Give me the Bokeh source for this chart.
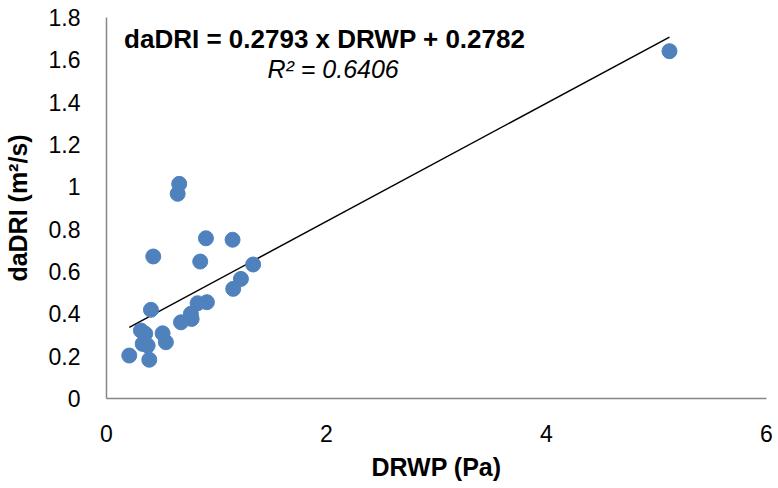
from bokeh.plotting import figure
from bokeh.models import ColumnDataSource, Label, Range1d, FixedTicker, CustomJSTickFormatter
from bokeh.embed import file_html
from bokeh.resources import INLINE

# data
drwp = [0.661, 0.647, 0.904, 1.146, 0.425, 0.852, 1.333, 1.222, 1.152, 0.913,
        0.828, 0.404, 0.767, 0.774, 0.677, 0.510, 0.540, 0.313, 0.352, 0.329,
        0.374, 0.207, 0.389, 5.118]
dadri = [1.014, 0.967, 0.757, 0.750, 0.671, 0.647, 0.633, 0.565, 0.518, 0.455,
         0.450, 0.419, 0.400, 0.376, 0.360, 0.308, 0.266, 0.321, 0.306, 0.258,
         0.250, 0.203, 0.183, 1.641]
slope = 0.2793
intercept = 0.2782
r2 = 0.6406
x_ticks = [0, 2, 4, 6]
y_ticks = [0, 0.2, 0.4, 0.6, 0.8, 1.0, 1.2, 1.4, 1.6, 1.8]

FONT = "Liberation Sans"

p = figure(width=778, height=488, output_backend="svg", toolbar_location=None,
           x_range=Range1d(0, 6), y_range=Range1d(0, 1.8),
           min_border_left=105, min_border_right=12, min_border_top=17,
           min_border_bottom=90)
p.outline_line_color = None
p.xgrid.grid_line_color = None
p.ygrid.grid_line_color = None
p.background_fill_color = "white"
p.border_fill_color = "white"

src = ColumnDataSource(dict(x=drwp, y=dadri))

# trendline over the data range
x0, x1 = min(drwp), max(drwp)
p.line([x0, x1], [slope * x0 + intercept, slope * x1 + intercept],
       line_color="black", line_width=1.5)

p.scatter("x", "y", source=src, size=15, fill_color="#4F81BD",
          line_color="#4F81BD")

fmt = CustomJSTickFormatter(code="return tick.toFixed(1).replace(/\\.0$/, '');")

for ax in (p.xaxis[0], p.yaxis[0]):
    ax.axis_line_color = "#868686"
    ax.axis_line_width = 1.5
    ax.major_tick_line_color = None
    ax.minor_tick_line_color = None
    ax.major_label_text_font = FONT
    ax.major_label_text_font_size = "23px"
    ax.major_label_text_color = "black"
    ax.axis_label_text_font = FONT
    ax.axis_label_text_font_style = "bold"
    ax.axis_label_text_font_size = "25px"
    ax.axis_label_text_color = "black"
    ax.formatter = fmt

p.xaxis[0].ticker = FixedTicker(ticks=x_ticks)
p.yaxis[0].ticker = FixedTicker(ticks=y_ticks)
p.xaxis[0].axis_label = "DRWP (Pa)"
p.yaxis[0].axis_label = "daDRI (m²/s)"
p.xaxis[0].major_label_standoff = 20
p.xaxis[0].axis_label_standoff = 8
p.yaxis[0].major_label_standoff = 20
p.yaxis[0].axis_label_standoff = 14

eq = Label(x=0.16, y=1.70, text=f"daDRI = {slope} x DRWP + {intercept}",
           text_font=FONT, text_font_style="bold", text_font_size="26px",
           text_baseline="middle", text_align="left", text_color="black")
rl = Label(x=2.06, y=1.559, text=f"R² = {r2}",
           text_font=FONT, text_font_style="italic", text_font_size="25px",
           text_baseline="middle", text_align="center", text_color="black")
p.add_layout(eq)
p.add_layout(rl)

open("out.html", "w").write(file_html(p, INLINE))
